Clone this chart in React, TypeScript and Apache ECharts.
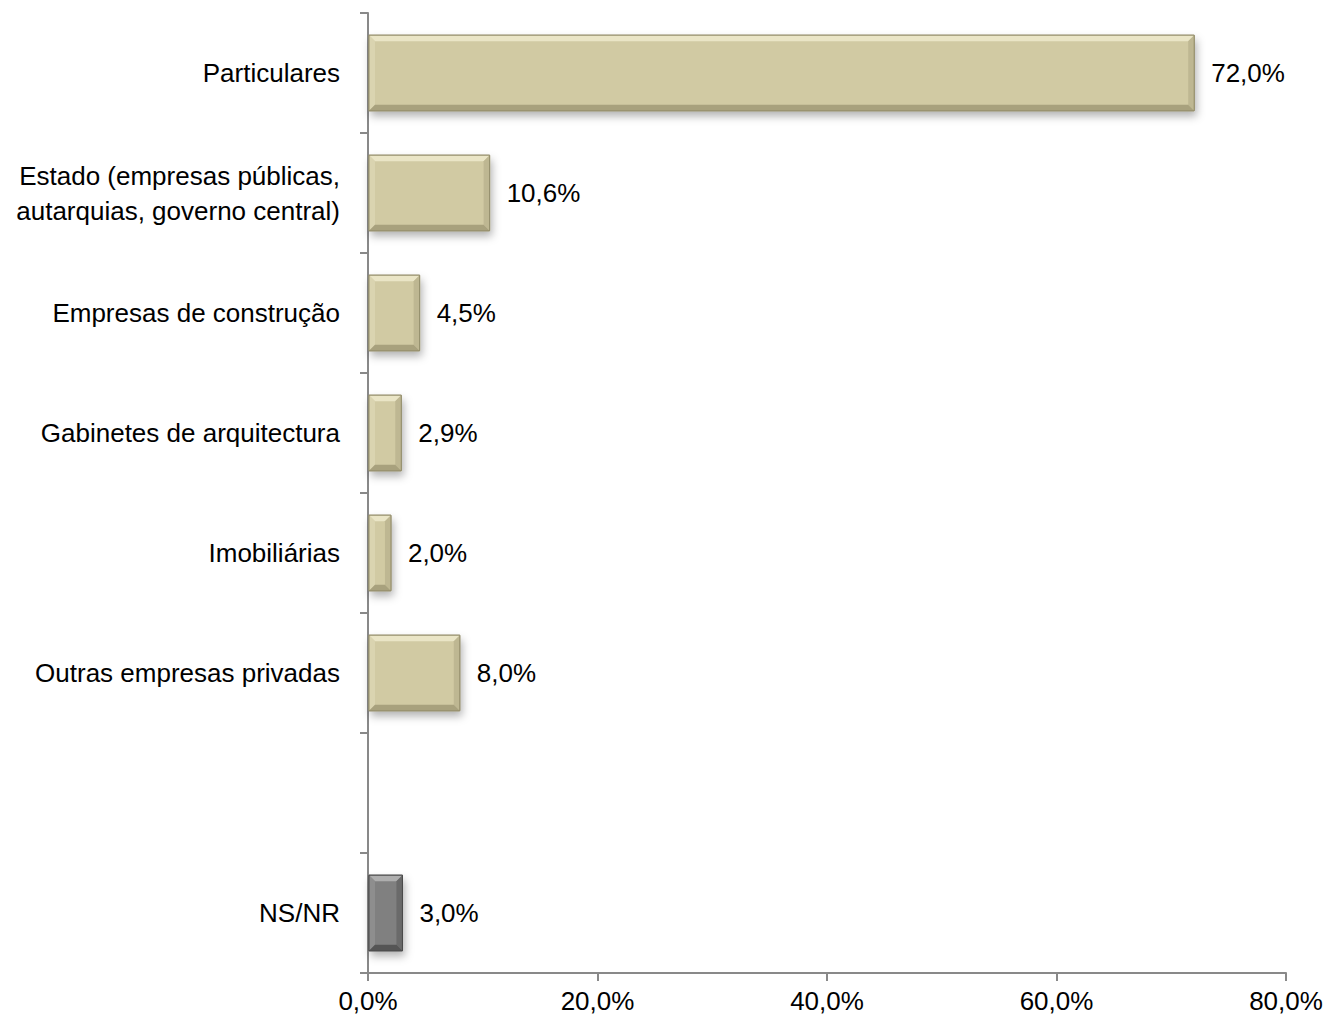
import React, { useEffect, useRef } from "react";
import * as echarts from "echarts";

const categories = [
  "Particulares",
  "Estado (empresas públicas,\nautarquias, governo central)",
  "Empresas de construção",
  "Gabinetes de arquitectura",
  "Imobiliárias",
  "Outras empresas privadas",
  "",
  "NS/NR",
];
const values: (number | null)[] = [72.0, 10.6, 4.5, 2.9, 2.0, 8.0, null, 3.0];
const xTicks = { min: 0, max: 80, interval: 20 };

const FONT = "'Liberation Sans Narrow', 'Arial Narrow', 'Liberation Sans', Arial, sans-serif";
const FS = 26;

const fmt = (v: number) => v.toFixed(1).replace(".", ",") + "%";

const beige = { main: "#D1CAA3", top: "#EAE5C6", left: "#DAD4B0", right: "#BEB792", bottom: "#A8A17D", border: "#948E6C" };
const gray = { main: "#808080", top: "#AEAEAE", left: "#8E8E8E", right: "#6A6A6A", bottom: "#555555", border: "#4A4A4A" };

export default function App() {
  const ref = useRef<HTMLDivElement>(null);
  useEffect(() => {
    if (!ref.current) return;
    const chart = echarts.init(ref.current, null, { renderer: "svg" });
    const data = values.map((v, i) => (v == null ? [null, i] : [v, i]));
    chart.setOption({
      animation: false,
      backgroundColor: "#ffffff",
      grid: {
        left: 368,
        right: 42,
        top: 13,
        bottom: 55,
        containLabel: false,
        outerBoundsMode: "none",
      },
      xAxis: {
        type: "value",
        min: xTicks.min,
        max: xTicks.max,
        interval: xTicks.interval,
        splitLine: { show: false },
        axisLine: { show: true, lineStyle: { color: "#898989", width: 2 } },
        axisTick: { show: true, length: 8, lineStyle: { color: "#898989", width: 2 } },
        axisLabel: {
          formatter: (v: number) => fmt(v),
          fontFamily: FONT,
          fontSize: FS,
          color: "#000",
          margin: 15,
          hideOverlap: false,
        },
      },
      yAxis: {
        type: "category",
        data: categories,
        inverse: true,
        axisLine: { show: true, lineStyle: { color: "#898989", width: 2 } },
        axisTick: { show: true, length: 8, interval: 0, lineStyle: { color: "#898989", width: 2 } },
        axisLabel: {
          interval: 0,
          fontFamily: FONT,
          fontSize: FS,
          lineHeight: 35,
          color: "#000",
          margin: 28,
          align: "right",
        },
        splitLine: { show: false },
      },
      series: [
        {
          type: "custom",
          encode: { x: 0, y: 1 },
          data,
          renderItem: (params: any, api: any) => {
            const v = api.value(0);
            const idx = api.value(1);
            if (v == null || isNaN(v)) return null;
            const p0 = api.coord([0, idx]);
            const p1 = api.coord([v, idx]);
            const band = api.size([0, 1])[1];
            const h = band * 0.63;
            const x0 = p0[0] + 1;
            const x1 = p1[0];
            const y0 = p0[1] - h / 2;
            const y1 = p0[1] + h / 2;
            const w = x1 - x0;
            const b = Math.min(6, w / 2);
            const c = categories[idx] === "NS/NR" ? gray : beige;
            return {
              type: "group",
              children: [
                {
                  type: "rect",
                  shape: { x: x0, y: y0, width: w, height: h },
                  style: {
                    fill: c.main,
                    stroke: c.border,
                    lineWidth: 1,
                    shadowBlur: 8,
                    shadowOffsetX: 2,
                    shadowOffsetY: 5,
                    shadowColor: "rgba(0,0,0,0.3)",
                  },
                },
                {
                  type: "polygon",
                  shape: { points: [[x0, y0], [x1, y0], [x1 - b, y0 + b], [x0 + b, y0 + b]] },
                  style: { fill: c.top },
                },
                {
                  type: "polygon",
                  shape: { points: [[x0, y0], [x0 + b, y0 + b], [x0 + b, y1 - b], [x0, y1]] },
                  style: { fill: c.left },
                },
                {
                  type: "polygon",
                  shape: { points: [[x1, y0], [x1, y1], [x1 - b, y1 - b], [x1 - b, y0 + b]] },
                  style: { fill: c.right },
                },
                {
                  type: "polygon",
                  shape: { points: [[x0, y1], [x0 + b, y1 - b], [x1 - b, y1 - b], [x1, y1]] },
                  style: { fill: c.bottom },
                },
                {
                  type: "rect",
                  shape: { x: x0, y: y0, width: w, height: h },
                  style: { fill: "none", stroke: c.border, lineWidth: 1 },
                },
                {
                  type: "text",
                  style: {
                    text: fmt(v),
                    x: x1 + 17,
                    y: p0[1],
                    align: "left",
                    verticalAlign: "middle",
                    fontFamily: FONT,
                    fontSize: FS,
                    fill: "#000",
                  },
                },
              ],
            };
          },
        },
      ],
    });
    return () => chart.dispose();
  }, []);
  return (
    <div
      ref={ref}
      style={{ position: "fixed", left: 0, top: 0, width: 1328, height: 1028, background: "#fff" }}
    />
  );
}
